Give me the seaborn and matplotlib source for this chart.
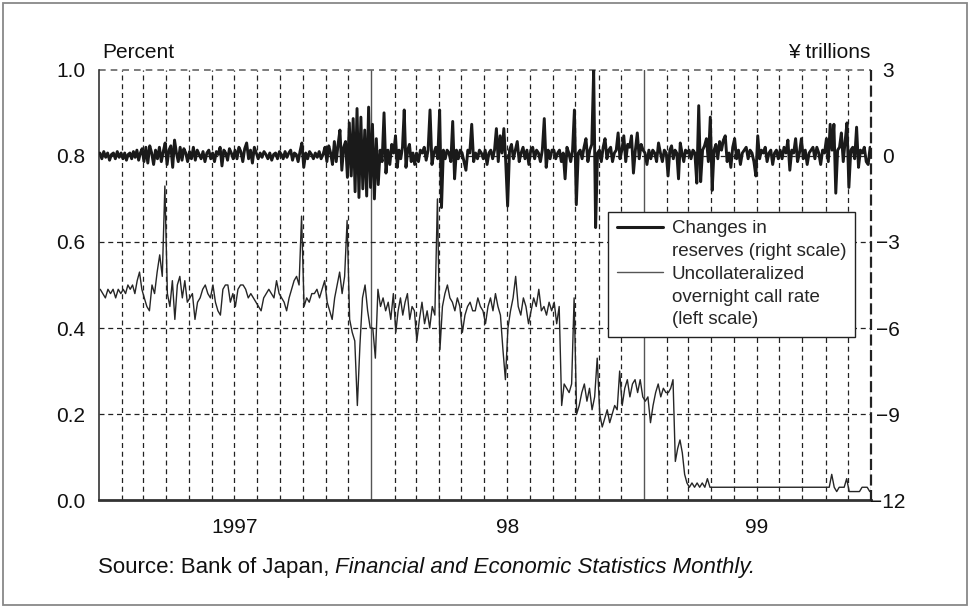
import numpy as np
import pandas as pd
import matplotlib
matplotlib.use("Agg")
import matplotlib.pyplot as plt
from matplotlib.lines import Line2D
from matplotlib.patches import Rectangle
import seaborn as sns

# ---------------- data ----------------
# Uncollateralized overnight call rate, percent, 9 readings per month
rate_1997 = [
    0.49, 0.48, 0.47, 0.49, 0.48, 0.49, 0.47, 0.49, 0.48,   # Jan
    0.49, 0.48, 0.50, 0.49, 0.50, 0.48, 0.51, 0.53, 0.49,   # Feb
    0.47, 0.45, 0.44, 0.50, 0.48, 0.53, 0.57, 0.52, 0.73,   # Mar
    0.48, 0.45, 0.51, 0.42, 0.50, 0.52, 0.47, 0.51, 0.46,   # Apr
    0.47, 0.48, 0.42, 0.46, 0.47, 0.49, 0.50, 0.48, 0.47,   # May
    0.50, 0.46, 0.44, 0.43, 0.49, 0.50, 0.50, 0.46, 0.48,   # Jun
    0.45, 0.49, 0.50, 0.50, 0.49, 0.47, 0.48, 0.47, 0.46,   # Jul
    0.45, 0.44, 0.47, 0.48, 0.49, 0.48, 0.47, 0.51, 0.48,   # Aug
    0.47, 0.46, 0.44, 0.47, 0.49, 0.51, 0.52, 0.50, 0.66,   # Sep
    0.45, 0.47, 0.46, 0.48, 0.48, 0.49, 0.47, 0.49, 0.51,   # Oct
    0.46, 0.44, 0.42, 0.47, 0.50, 0.53, 0.48, 0.52, 0.65,   # Nov
    0.42, 0.39, 0.37, 0.22, 0.36, 0.47, 0.50, 0.44, 0.40,   # Dec
]
rate_1998 = [
    0.40, 0.33, 0.49, 0.45, 0.47, 0.44, 0.46, 0.42, 0.48,   # Jan
    0.39, 0.44, 0.47, 0.43, 0.46, 0.48, 0.42, 0.45, 0.44,   # Feb
    0.37, 0.42, 0.46, 0.41, 0.44, 0.40, 0.45, 0.43, 0.70,   # Mar
    0.35, 0.45, 0.48, 0.50, 0.47, 0.46, 0.44, 0.47, 0.45,   # Apr
    0.39, 0.43, 0.45, 0.46, 0.44, 0.44, 0.47, 0.45, 0.44,   # May
    0.41, 0.45, 0.47, 0.44, 0.48, 0.45, 0.43, 0.35, 0.28,   # Jun
    0.40, 0.44, 0.47, 0.52, 0.45, 0.43, 0.47, 0.45, 0.41,   # Jul
    0.44, 0.47, 0.45, 0.49, 0.44, 0.45, 0.43, 0.46, 0.44,   # Aug
    0.46, 0.41, 0.45, 0.22, 0.27, 0.26, 0.25, 0.27, 0.47,   # Sep
    0.20, 0.22, 0.25, 0.27, 0.23, 0.26, 0.21, 0.24, 0.33,   # Oct
    0.20, 0.17, 0.19, 0.21, 0.18, 0.20, 0.22, 0.21, 0.30,   # Nov
    0.22, 0.26, 0.28, 0.24, 0.27, 0.28, 0.25, 0.28, 0.24,   # Dec
]
rate_1999 = [
    0.23, 0.24, 0.18, 0.22, 0.25, 0.27, 0.24, 0.26, 0.25,   # Jan
    0.25, 0.26, 0.28, 0.09, 0.12, 0.14, 0.11, 0.06, 0.04,   # Feb
    0.03, 0.04, 0.03, 0.04, 0.03, 0.04, 0.03, 0.05, 0.03,   # Mar
    0.03, 0.03, 0.03, 0.03, 0.03, 0.03, 0.03, 0.03, 0.03,   # Apr
    0.03, 0.03, 0.03, 0.03, 0.03, 0.03, 0.03, 0.03, 0.03,   # May
    0.03, 0.03, 0.03, 0.03, 0.03, 0.03, 0.03, 0.03, 0.03,   # Jun
    0.03, 0.03, 0.03, 0.03, 0.03, 0.03, 0.03, 0.03, 0.03,   # Jul
    0.03, 0.03, 0.03, 0.03, 0.03, 0.03, 0.03, 0.03, 0.03,   # Aug
    0.03, 0.03, 0.06, 0.03, 0.02, 0.03, 0.03, 0.03, 0.05,   # Sep
    0.02, 0.02, 0.02, 0.02, 0.02, 0.03, 0.03, 0.03, 0.02,   # Oct
]

# Changes in reserves, yen trillions, 12 readings per month
reserves_1997 = [
    0.1, -0.1, 0.15, -0.05, 0.1, -0.15, 0.05, 0.1, -0.1, 0.15, -0.05, 0.1,     # Jan
    -0.1, 0.1, -0.15, 0.05, 0.1, -0.1, 0.15, -0.05, 0.2, -0.15, 0.1, 0.25,     # Feb
    -0.2, 0.3, -0.25, 0.35, 0.1, -0.3, 0.2, -0.1, 0.3, -0.2, 0.15, 0.45,       # Mar
    -0.3, 0.2, 0.35, -0.4, 0.55, 0.1, -0.2, 0.3, -0.15, 0.25, 0.1, -0.2,       # Apr
    0.15, -0.1, 0.3, -0.15, 0.2, 0.05, -0.1, 0.15, -0.2, 0.1, 0.2, -0.1,       # May
    0.1, -0.2, 0.15, 0.05, 0.3, -0.35, 0.2, 0.1, -0.15, 0.25, 0.1, -0.1,       # Jun
    0.2, -0.1, 0.3, 0.15, -0.2, 0.25, 0.45, -0.1, 0.2, -0.25, 0.3, 0.1,        # Jul
    -0.1, 0.1, -0.05, 0.15, 0.05, -0.1, 0.1, -0.15, 0.05, 0.1, -0.1, 0.15,     # Aug
    0.05, -0.1, 0.15, -0.05, 0.1, 0.2, -0.15, 0.1, 0.05, -0.2, 0.15, 0.45,     # Sep
    -0.4, 0.1, -0.1, 0.15, 0.05, -0.1, 0.1, -0.05, 0.15, -0.1, 0.05, 0.3,      # Oct
    -0.2, 0.35, 0.1, -0.3, 0.5, -0.2, 0.4, 0.9, -0.5, 0.3, 0.5, -0.75,         # Nov
    1.15, -0.7, 1.3, -1.25, 1.65, -1.45, 1.35, -1.15, 0.9, -1.4, 1.7, -1.1,    # Dec
]
reserves_1998 = [
    1.1, -1.5, 0.6, -1.0, 0.2, -0.2, 1.5, -0.6, 0.2, -0.3, 0.4, 0.1,           # Jan
    0.7, -0.4, 0.2, -0.1, 0.3, 1.6, -0.4, 0.2, 0.4, -0.2, 0.1, -0.3,           # Feb
    0.1, -0.2, 0.2, 0.1, 0.3, -0.15, 0.2, 1.6, -0.3, 0.1, 0.3, -0.1,           # Mar
    1.6, -1.8, 0.2, -0.1, 0.2, 0.1, -0.2, 1.2, -0.8, 0.2, -0.1, 0.2,           # Apr
    0.1, -0.2, -0.5, 0.2, 0.1, 1.1, -0.2, 0.1, -0.1, 0.2, 0.1, -0.1,           # May
    0.2, -0.3, 0.1, 0.2, -0.1, 0.2, 0.95, -0.2, 0.7, 0.1, 0.95, -0.2,          # Jun
    -1.75, 0.2, 0.4, -0.1, 0.2, 0.5, -0.2, 0.1, 0.3, -0.1, 0.2, -0.3,          # Jul
    0.2, 0.3, -0.1, 0.2, 0.1, -0.2, 0.2, 1.3, -0.4, 0.2, -0.1, 0.2,            # Aug
    0.2, -0.1, 0.1, 0.2, -0.2, 0.1, -0.8, 0.3, 0.1, -0.2, 0.2, 1.6,            # Sep
    -1.7, 0.1, 0.2, -0.1, 0.3, 0.6, -0.2, 0.2, 0.4, 3.0, -2.5, 0.1,            # Oct
    0.2, -0.2, 0.3, 0.6, -0.1, 0.2, 0.3, -0.2, 0.1, 0.2, 0.8, -0.1,            # Nov
    0.2, 0.7, -0.2, 0.4, 0.3, 0.7, -0.6, 0.2, 0.8, -0.1, 0.4, 0.2,             # Dec
]
reserves_1999 = [
    0.1, -0.3, 0.2, -0.1, 0.2, 0.1, -0.2, 0.45, 0.1, -0.2, 0.2, 0.1,           # Jan
    -0.7, 0.2, 0.35, -0.1, 0.2, 0.1, -0.8, 0.45, 0.1, -0.2, 0.2, 0.1,          # Feb
    0.2, -0.1, 0.2, 0.1, -0.95, 1.75, -0.9, 0.2, 0.35, 0.6, -0.2, 1.35,        # Mar
    -1.2, 0.2, 0.4, -0.1, 0.5, 0.2, 0.55, 0.7, -0.2, 0.1, -0.4, 0.3,           # Apr
    0.6, -0.1, 0.2, -0.3, 0.1, 0.2, 0.3, -0.1, 0.2, 0.1, -0.2, -0.7,           # May
    0.7, -0.1, 0.2, 0.1, 0.3, -0.2, 0.1, 0.2, -0.3, 0.1, 0.2, -0.1,            # Jun
    0.2, -0.1, 0.3, 0.1, 0.55, -0.5, 0.2, 0.1, 0.6, -0.2, 0.1, 0.6,            # Jul
    -0.1, 0.2, -0.3, 0.1, 0.2, 0.3, -0.1, 0.3, 0.1, -0.3, 0.2, 0.1,            # Aug
    0.6, -0.2, 1.1, 0.2, 1.1, -1.3, 0.2, 0.3, 0.8, -0.2, 0.5, 1.15,            # Sep
    -1.1, 0.2, 0.3, -0.1, 1.0, -0.4, 0.2, 0.1, 0.3, -0.2, -0.3, 0.3,           # Oct
]

year_labels = ["1997", "98", "99"]
left_ticks = [0.0, 0.2, 0.4, 0.6, 0.8, 1.0]
right_ticks = [-12, -9, -6, -3, 0, 3]
legend_lines = ["Changes in", "reserves (right scale)", "Uncollateralized",
                "overnight call rate", "(left scale)"]


def month_dates(year, n_values, per_month):
    """Spread readings evenly inside each calendar month."""
    out = []
    for m in range(n_values // per_month):
        start = pd.Timestamp(year, m + 1, 1)
        span = (start + pd.offsets.MonthBegin(1)) - start
        for i in range(per_month):
            out.append(start + span * (i + 0.5) / per_month)
    return out


rate_df = pd.DataFrame({
    "date": month_dates(1997, len(rate_1997), 9) + month_dates(1998, len(rate_1998), 9)
            + month_dates(1999, len(rate_1999), 9),
    "rate": rate_1997 + rate_1998 + rate_1999,
})
res_df = pd.DataFrame({
    "date": month_dates(1997, len(reserves_1997), 12) + month_dates(1998, len(reserves_1998), 12)
            + month_dates(1999, len(reserves_1999), 12),
    "reserves": reserves_1997 + reserves_1998 + reserves_1999,
})

# ---------------- style ----------------
sns.set_theme(style="white")
plt.rcParams["font.family"] = ["Liberation Sans", "DejaVu Sans"]
plt.rcParams["axes.unicode_minus"] = True

FS = 15
fig = plt.figure(figsize=(9.7, 6.07), dpi=100)
fig.patch.set_facecolor("white")
ax = fig.add_axes([0.102, 0.176, 0.796, 0.709])
ax2 = ax.twinx()

x0, x1 = pd.Timestamp("1997-01-01"), pd.Timestamp("1999-11-01")
dash = (0, (4, 3))

# month grid
for mstart in pd.date_range(x0, x1, freq="MS")[1:]:
    if mstart.month == 1:
        ax.axvline(mstart, color="#555555", lw=1.0, zorder=1)
    else:
        ax.axvline(mstart, color="#222222", lw=0.9, ls=dash, zorder=1)
for yv in [0.2, 0.4, 0.6, 0.8]:
    ax.axhline(yv, color="#222222", lw=0.9, ls=dash, zorder=1)
ax.axhline(1.0, color="#666666", lw=1.2, ls=dash, zorder=1, clip_on=False)

sns.lineplot(data=rate_df, x="date", y="rate", ax=ax, color="#262626",
             linewidth=1.0, zorder=3)
sns.lineplot(data=res_df, x="date", y="reserves", ax=ax2, color="#1a1a1a",
             linewidth=2.1, zorder=3)

ax.set_xlim(x0, x1)
ax.set_ylim(0, 1.0)
ax2.set_ylim(-12, 3)
for a in (ax, ax2):
    a.set_xlabel("")
    a.set_ylabel("")
    a.grid(False)

ax.set_yticks(left_ticks)
ax.set_yticklabels([f"{v:.1f}" for v in left_ticks], fontsize=FS, color="#111111")
ax.tick_params(axis="y", length=0, pad=10)
ax2.set_yticks(right_ticks)
ax2.set_yticklabels([f"{v}".replace("-", "\u2212") for v in right_ticks],
                    fontsize=FS, color="#111111")
ax2.tick_params(axis="y", length=0, pad=12)
for lbl in ax2.get_yticklabels():
    lbl.set_horizontalalignment("center")

year_mid = [pd.Timestamp("1997-07-02"), pd.Timestamp("1998-07-02"), pd.Timestamp("1999-06-01")]
ax.set_xticks(year_mid)
ax.set_xticklabels(year_labels, fontsize=FS, color="#111111")
ax.tick_params(axis="x", length=0, pad=13)

for a in (ax, ax2):
    a.spines["top"].set_visible(False)
ax.spines["left"].set_color("#333333")
ax.spines["left"].set_linewidth(1.2)
ax.spines["bottom"].set_color("#333333")
ax.spines["bottom"].set_linewidth(2.0)
ax2.spines["left"].set_visible(False)
ax2.spines["bottom"].set_visible(False)
ax.spines["right"].set_visible(False)
ax2.spines["right"].set_color("#222222")
ax2.spines["right"].set_linewidth(1.6)
ax2.spines["right"].set_linestyle(dash)

# legend (one row per text line, handle on the first line of each entry)
blank = Line2D([], [], color="none")
handles = [Line2D([], [], color="#1a1a1a", lw=2.2), blank,
           Line2D([], [], color="#555555", lw=1.0), blank, blank]
leg = ax2.legend(handles=handles, labels=legend_lines, loc="upper right",
                 bbox_to_anchor=(0.979, 0.670), borderaxespad=0, frameon=True,
                 fancybox=False, framealpha=1, edgecolor="#222222",
                 fontsize=13.5, handlelength=2.5, handletextpad=0.45,
                 labelspacing=0.3, borderpad=0.45)
leg.get_frame().set_linewidth(1.0)
leg.set_zorder(10)

# axis unit labels
fig.text(0.105, 1 - 52 / 607, "Percent", fontsize=FS, va="center", ha="left", color="#111111")
fig.text(0.897, 1 - 52 / 607, "\u00a5 trillions", fontsize=FS, va="center", ha="right", color="#111111")

# source line (normal + italic)
src1 = fig.text(0.101, 1 - 568 / 607, "Source: Bank of Japan, ", fontsize=16,
                va="center", ha="left", color="#111111")
fig.canvas.draw()
bb = src1.get_window_extent(renderer=fig.canvas.get_renderer())
fig.text(bb.x1 / fig.bbox.width, 1 - 568 / 607, "Financial and Economic Statistics Monthly.",
         fontsize=16, style="italic", va="center", ha="left", color="#111111")

# outer frame
fig.patches.append(Rectangle((0.003, 0.004), 0.994, 0.991, transform=fig.transFigure,
                             fill=False, edgecolor="#888888", lw=1.3))

fig.savefig("out.png", dpi=100)
